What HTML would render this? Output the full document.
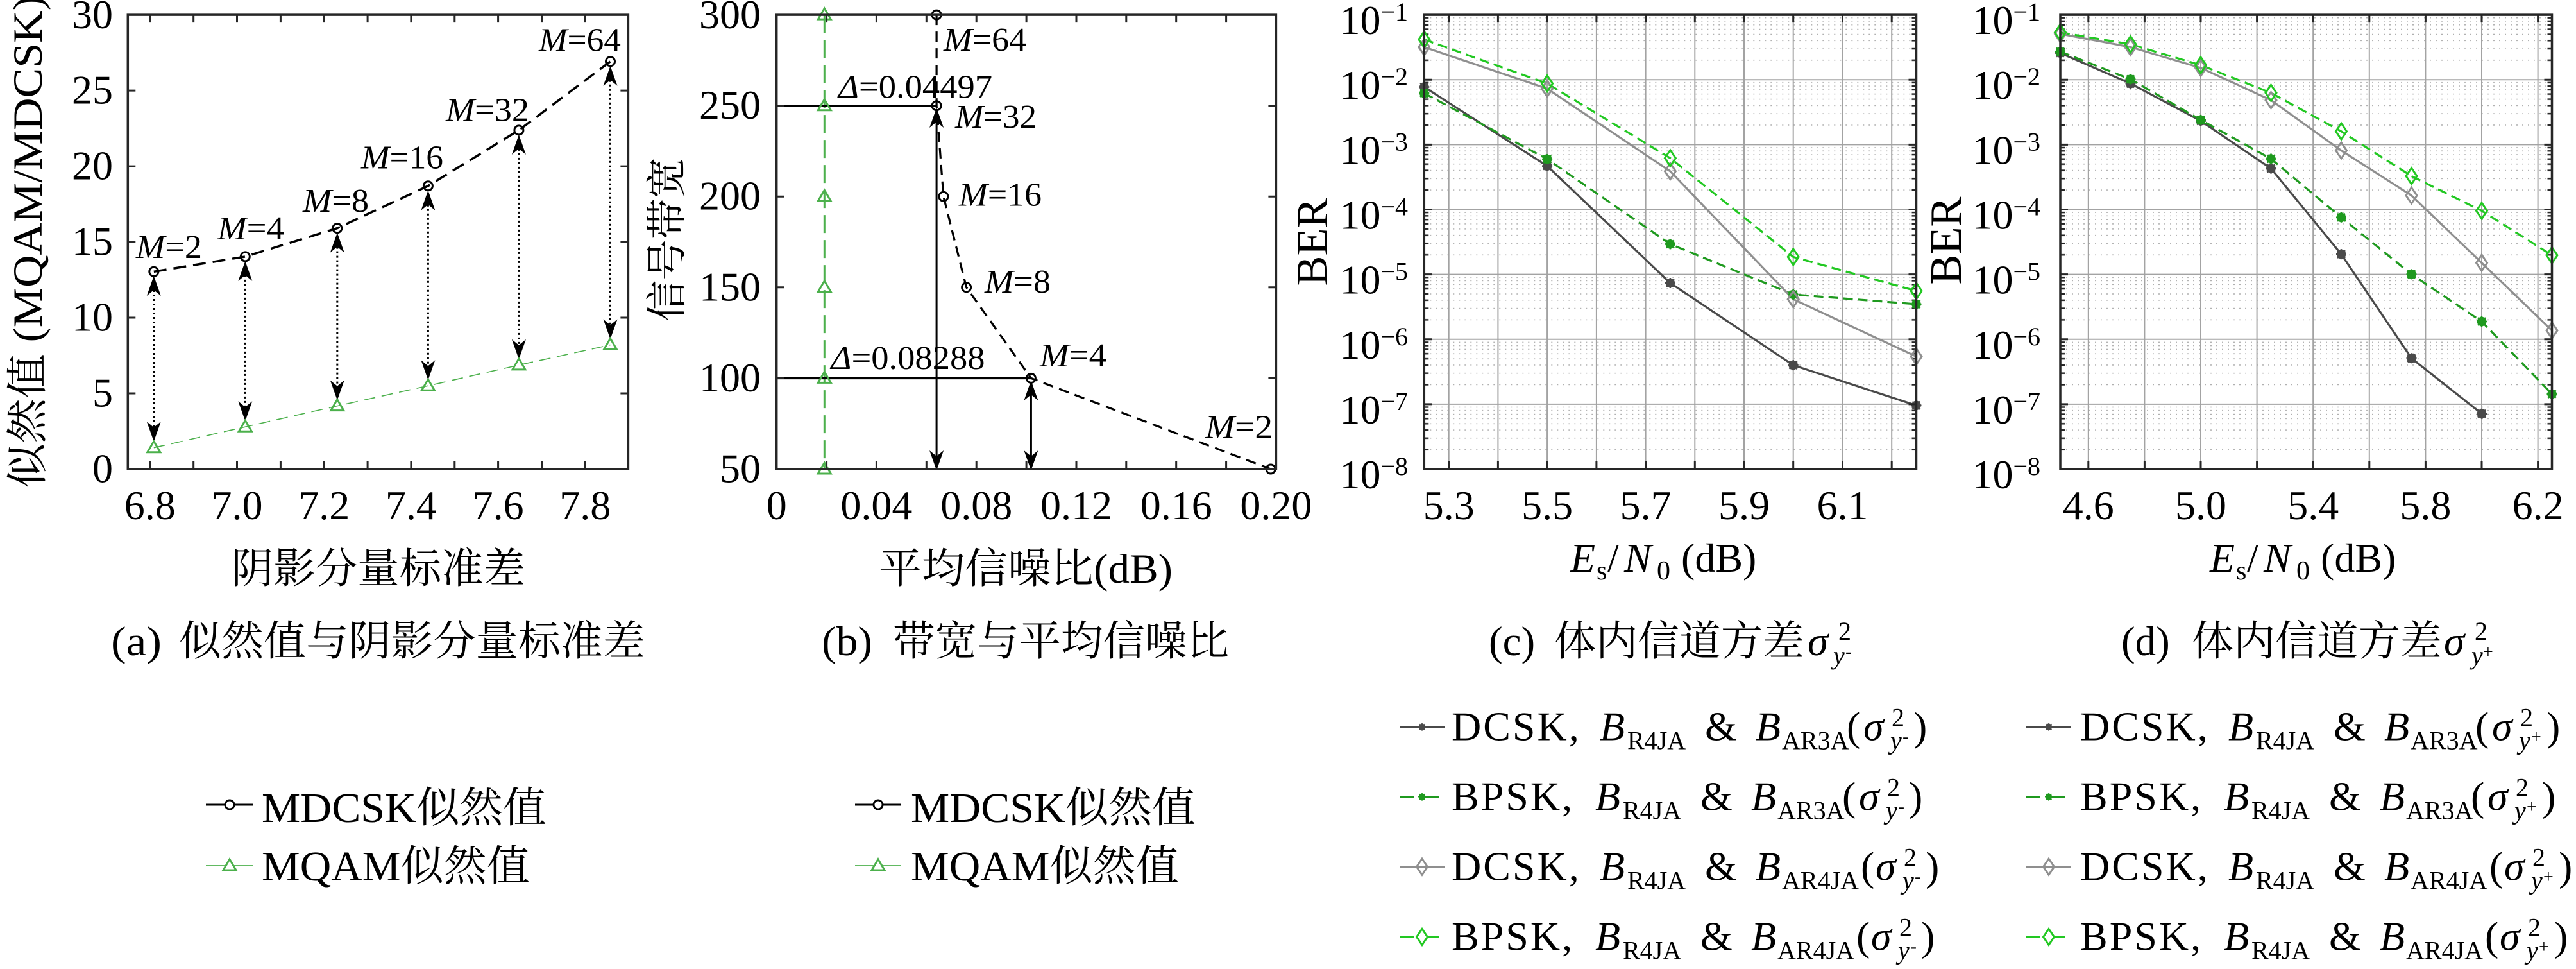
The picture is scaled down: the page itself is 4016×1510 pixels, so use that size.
<!DOCTYPE html>
<html><head><meta charset="utf-8">
<style>
html,body{margin:0;padding:0;background:#fff;}
svg{display:block;}
text{font-family:"Liberation Serif","Noto Serif CJK SC",serif;fill:#000;}
.i{font-style:italic;}
.ls{letter-spacing:3px;}
</style></head><body>
<svg xmlns="http://www.w3.org/2000/svg" xmlns:xlink="http://www.w3.org/1999/xlink" width="4016" height="1510" viewBox="0 0 4016 1510">
<defs>
<g id="ast"><circle r="6"/><path d="M-8 0h16M0-8v16M-6-6l12 12M-6 6l12-12"/></g>
<path id="dia" d="M0-12.5L8.5 0L0 12.5L-8.5 0Z" fill="none"/>
<pattern id="mgc" patternUnits="userSpaceOnUse" x="2220.3" y="23.1" width="767.2" height="101.129">
<path d="M0 4.63H767.2M0 9.8H767.2M0 15.67H767.2M0 22.43H767.2M0 30.44H767.2M0 40.24H767.2M0 52.88H767.2M0 70.69H767.2" stroke="#b0b0b0" stroke-width="1.5" stroke-dasharray="2 7" fill="none"/>
<path d="M0 4.63h7M0 9.8h7M0 15.67h7M0 22.43h7M0 30.44h7M0 40.24h7M0 52.88h7M0 70.69h7M767.2 4.63h-7M767.2 9.8h-7M767.2 15.67h-7M767.2 22.43h-7M767.2 30.44h-7M767.2 40.24h-7M767.2 52.88h-7M767.2 70.69h-7" stroke="#262626" stroke-width="2.5"/>
</pattern>
<pattern id="mgd" patternUnits="userSpaceOnUse" x="3212" y="23.1" width="766.5" height="101.129">
<path d="M0 4.63H766.5M0 9.8H766.5M0 15.67H766.5M0 22.43H766.5M0 30.44H766.5M0 40.24H766.5M0 52.88H766.5M0 70.69H766.5" stroke="#b0b0b0" stroke-width="1.5" stroke-dasharray="2 7" fill="none"/>
<path d="M0 4.63h7M0 9.8h7M0 15.67h7M0 22.43h7M0 30.44h7M0 40.24h7M0 52.88h7M0 70.69h7M766.5 4.63h-7M766.5 9.8h-7M766.5 15.67h-7M766.5 22.43h-7M766.5 30.44h-7M766.5 40.24h-7M766.5 52.88h-7M766.5 70.69h-7" stroke="#262626" stroke-width="2.5"/>
</pattern>
</defs>
<rect width="4016" height="1510" fill="#fff"/>

<!-- ================= PANEL A ================= -->
<g>
<polyline points="239.8,423.3 382.3,399.9 525.8,355.6 667.4,289.7 808.9,202.9 951.5,95.8" fill="none" stroke="#000" stroke-width="3.5" stroke-dasharray="20 11"/>
<polyline points="239.8,697.7 382.3,665.2 525.8,632.6 667.4,601.2 808.9,568.9 951.5,537.5" fill="none" stroke="#4cb04c" stroke-width="1.6" stroke-dasharray="18 10"/>
<path d="M239.8 452V666M382.3 428.9V634.2M525.8 384.6V601.6M667.4 318.7V570.2M808.9 231.9V537.9M951.5 124.8V506.5" stroke="#000" stroke-width="3" stroke-dasharray="3 4" fill="none"/>
<path fill="#000" d="M239.8 430L228.8 461L239.8 452L250.8 461ZM239.8 688L228.8 657L239.8 666L250.8 657Z
M382.3 406.9L371.3 437.9L382.3 428.9L393.3 437.9ZM382.3 656.2L371.3 625.2L382.3 634.2L393.3 625.2Z
M525.8 362.6L514.8 393.6L525.8 384.6L536.8 393.6ZM525.8 623.6L514.8 592.6L525.8 601.6L536.8 592.6Z
M667.4 296.7L656.4 327.7L667.4 318.7L678.4 327.7ZM667.4 592.2L656.4 561.2L667.4 570.2L678.4 561.2Z
M808.9 209.9L797.9 240.9L808.9 231.9L819.9 240.9ZM808.9 559.9L797.9 528.9L808.9 537.9L819.9 528.9Z
M951.5 102.8L940.5 133.8L951.5 124.8L962.5 133.8ZM951.5 528.5L940.5 497.5L951.5 506.5L962.5 497.5Z"/>
<g fill="none" stroke="#000" stroke-width="3">
<circle cx="239.8" cy="423.3" r="7"/><circle cx="382.3" cy="399.9" r="7"/><circle cx="525.8" cy="355.6" r="7"/>
<circle cx="667.4" cy="289.7" r="7"/><circle cx="808.9" cy="202.9" r="7"/><circle cx="951.5" cy="95.8" r="7"/>
</g>
<path fill="none" stroke="#4cb04c" stroke-width="3" d="M239.8 687.7L249.8 704.7L229.8 704.7ZM382.3 655.2L392.3 672.2L372.3 672.2ZM525.8 622.6L535.8 639.6L515.8 639.6ZM667.4 591.2L677.4 608.2L657.4 608.2ZM808.9 558.9L818.9 575.9L798.9 575.9ZM951.5 527.5L961.5 544.5L941.5 544.5Z"/>
<rect x="199.3" y="23.1" width="780.1" height="707.9" fill="none" stroke="#262626" stroke-width="3.5"/>
<path stroke="#262626" stroke-width="3" d="M199.3 613h12M199.3 495h12M199.3 377h12M199.3 259.1h12M199.3 141.1h12M979.4 613h-12M979.4 495h-12M979.4 377h-12M979.4 259.1h-12M979.4 141.1h-12
M233.8 731v-12M301.7 731v-12M369.5 731v-12M437.4 731v-12M505.2 731v-12M573.1 731v-12M640.9 731v-12M708.8 731v-12M776.6 731v-12M844.5 731v-12M912.3 731v-12
M233.8 23.1v12M301.7 23.1v12M369.5 23.1v12M437.4 23.1v12M505.2 23.1v12M573.1 23.1v12M640.9 23.1v12M708.8 23.1v12M776.6 23.1v12M844.5 23.1v12M912.3 23.1v12"/>
<g font-size="64" text-anchor="end">
<text x="176" y="44">30</text><text x="176" y="161.6">25</text><text x="176" y="279.6">20</text><text x="176" y="397.5">15</text><text x="176" y="515.5">10</text><text x="176" y="633.5">5</text><text x="176" y="751.5">0</text>
</g>
<g font-size="64" text-anchor="middle">
<text x="233.8" y="809">6.8</text><text x="369.5" y="809">7.0</text><text x="505.2" y="809">7.2</text><text x="640.9" y="809">7.4</text><text x="776.6" y="809">7.6</text><text x="912.3" y="809">7.8</text>
</g>
<g font-size="52">
<text x="212" y="402" textLength="103" lengthAdjust="spacingAndGlyphs"><tspan class="i">M</tspan>=2</text>
<text x="339" y="373" textLength="104" lengthAdjust="spacingAndGlyphs"><tspan class="i">M</tspan>=4</text>
<text x="472" y="330" textLength="103" lengthAdjust="spacingAndGlyphs"><tspan class="i">M</tspan>=8</text>
<text x="563" y="262.6" textLength="128" lengthAdjust="spacingAndGlyphs"><tspan class="i">M</tspan>=16</text>
<text x="695" y="188.4" textLength="130" lengthAdjust="spacingAndGlyphs"><tspan class="i">M</tspan>=32</text>
<text x="840" y="79.6" textLength="128" lengthAdjust="spacingAndGlyphs"><tspan class="i">M</tspan>=64</text>
</g>
<text transform="translate(65,377) rotate(-90)" text-anchor="middle" font-size="65" textLength="768" lengthAdjust="spacingAndGlyphs">似然值 (MQAM/MDCSK)</text>
<text x="361" y="908" font-size="65" textLength="458" lengthAdjust="spacingAndGlyphs">阴影分量标准差</text>
<text x="173" y="1021" font-size="65" textLength="79" lengthAdjust="spacingAndGlyphs">(a)</text>
<text x="279" y="1021" font-size="65" textLength="727" lengthAdjust="spacingAndGlyphs">似然值与阴影分量标准差</text>
<!-- legend a -->
<path d="M321 1254H395" stroke="#000" stroke-width="3"/>
<circle cx="358" cy="1254" r="7" fill="#fff" stroke="#000" stroke-width="3"/>
<path d="M321 1349H395" stroke="#4cb04c" stroke-width="1.8"/>
<path d="M358 1339L368 1356L348 1356Z" fill="#fff" stroke="#4cb04c" stroke-width="3"/>
<text x="408" y="1281" font-size="66" textLength="444" lengthAdjust="spacingAndGlyphs">MDCSK似然值</text>
<text x="408" y="1372" font-size="66" textLength="418" lengthAdjust="spacingAndGlyphs">MQAM似然值</text>
</g>

<!-- ================= PANEL B ================= -->
<g>
<path d="M1285.3 23.1V731" stroke="#4cb04c" stroke-width="3" stroke-dasharray="28 11" fill="none"/>
<path d="M1210.7 164.7H1460.1M1210.7 589.4H1607.4" stroke="#000" stroke-width="3.5"/>
<path d="M1460.1 190V711M1607.4 615V711" stroke="#000" stroke-width="3"/>
<path fill="#000" d="M1460.1 168L1449.1 199L1460.1 190L1471.1 199ZM1460.1 733L1449.1 702L1460.1 711L1471.1 702Z
M1607.4 593L1596.4 624L1607.4 615L1618.4 624ZM1607.4 733L1596.4 702L1607.4 711L1618.4 702Z"/>
<polyline points="1460.1,23.1 1460.1,164.7 1470.9,306.2 1506.6,447.8 1607.4,589.4 1981.1,731" fill="none" stroke="#000" stroke-width="3.2" stroke-dasharray="16 10"/>
<g fill="none" stroke="#000" stroke-width="3">
<circle cx="1460.1" cy="23.1" r="7"/><circle cx="1460.1" cy="164.7" r="7"/><circle cx="1470.9" cy="306.2" r="7"/>
<circle cx="1506.6" cy="447.8" r="7"/><circle cx="1607.4" cy="589.4" r="7"/><circle cx="1981.1" cy="731" r="7"/>
</g>
<path fill="none" stroke="#4cb04c" stroke-width="3" d="M1285.3 721L1295.3 738L1275.3 738ZM1285.3 579.4L1295.3 596.4L1275.3 596.4ZM1285.3 437.8L1295.3 454.8L1275.3 454.8ZM1285.3 296.2L1295.3 313.2L1275.3 313.2ZM1285.3 154.7L1295.3 171.7L1275.3 171.7ZM1285.3 13.1L1295.3 30.1L1275.3 30.1Z"/>
<rect x="1210.7" y="23.1" width="778.7" height="707.9" fill="none" stroke="#262626" stroke-width="3.5"/>
<path stroke="#262626" stroke-width="3" d="M1210.7 589.4h12M1210.7 447.8h12M1210.7 306.2h12M1210.7 164.7h12M1989.4 589.4h-12M1989.4 447.8h-12M1989.4 306.2h-12M1989.4 164.7h-12
M1288.6 731v-12M1366.4 731v-12M1444.3 731v-12M1522.2 731v-12M1600.1 731v-12M1678 731v-12M1755.8 731v-12M1833.7 731v-12M1911.6 731v-12
M1288.6 23.1v12M1366.4 23.1v12M1444.3 23.1v12M1522.2 23.1v12M1600.1 23.1v12M1678 23.1v12M1755.8 23.1v12M1833.7 23.1v12M1911.6 23.1v12"/>
<g font-size="64" text-anchor="end">
<text x="1186" y="44">300</text><text x="1186" y="185.2">250</text><text x="1186" y="326.7">200</text><text x="1186" y="468.3">150</text><text x="1186" y="609.9">100</text><text x="1186" y="751.5">50</text>
</g>
<g font-size="64" text-anchor="middle">
<text x="1210.7" y="809">0</text><text x="1366.4" y="809">0.04</text><text x="1522.2" y="809">0.08</text><text x="1678" y="809">0.12</text><text x="1833.7" y="809">0.16</text><text x="1989.4" y="809">0.20</text>
</g>
<g font-size="52">
<text x="1471" y="79" textLength="129" lengthAdjust="spacingAndGlyphs"><tspan class="i">M</tspan>=64</text>
<text x="1489" y="199" textLength="127" lengthAdjust="spacingAndGlyphs"><tspan class="i">M</tspan>=32</text>
<text x="1495" y="320.5" textLength="129" lengthAdjust="spacingAndGlyphs"><tspan class="i">M</tspan>=16</text>
<text x="1535" y="456" textLength="103" lengthAdjust="spacingAndGlyphs"><tspan class="i">M</tspan>=8</text>
<text x="1621" y="571" textLength="104" lengthAdjust="spacingAndGlyphs"><tspan class="i">M</tspan>=4</text>
<text x="1879" y="682.6" textLength="105" lengthAdjust="spacingAndGlyphs"><tspan class="i">M</tspan>=2</text>
<text x="1307" y="152.5" textLength="240" lengthAdjust="spacingAndGlyphs"><tspan class="i">Δ</tspan>=0.04497</text>
<text x="1295.5" y="575" textLength="240" lengthAdjust="spacingAndGlyphs"><tspan class="i">Δ</tspan>=0.08288</text>
</g>
<text transform="translate(1062,373) rotate(-90)" text-anchor="middle" font-size="64" textLength="255" lengthAdjust="spacingAndGlyphs">信号带宽</text>
<text x="1370" y="908" font-size="65" textLength="458" lengthAdjust="spacingAndGlyphs">平均信噪比(dB)</text>
<text x="1281" y="1021" font-size="65" textLength="79" lengthAdjust="spacingAndGlyphs">(b)</text>
<text x="1392" y="1021" font-size="65" textLength="524" lengthAdjust="spacingAndGlyphs">带宽与平均信噪比</text>
<!-- legend b -->
<path d="M1333 1254H1405" stroke="#000" stroke-width="3"/>
<circle cx="1369" cy="1254" r="7" fill="#fff" stroke="#000" stroke-width="3"/>
<path d="M1333 1349H1405" stroke="#4cb04c" stroke-width="1.8"/>
<path d="M1369 1339L1379 1356L1359 1356Z" fill="#fff" stroke="#4cb04c" stroke-width="3"/>
<text x="1420" y="1281" font-size="66" textLength="444" lengthAdjust="spacingAndGlyphs">MDCSK似然值</text>
<text x="1420" y="1372" font-size="66" textLength="418" lengthAdjust="spacingAndGlyphs">MQAM似然值</text>
</g>

<!-- ================= PANEL C ================= -->
<g>
<rect x="2220.3" y="23.1" width="767.2" height="707.9" fill="url(#mgc)"/>
<path stroke="#a3a3a3" stroke-width="2" fill="none" d="M2220.3 124.2H2987.5M2220.3 225.4H2987.5M2220.3 326.5H2987.5M2220.3 427.6H2987.5M2220.3 528.8H2987.5M2220.3 629.9H2987.5
M2258.7 23.1V731M2335.4 23.1V731M2412.1 23.1V731M2488.9 23.1V731M2565.6 23.1V731M2642.3 23.1V731M2719 23.1V731M2795.7 23.1V731M2872.5 23.1V731M2949.2 23.1V731"/>
<polyline points="2220.3,135.5 2412.1,258.7 2603.9,441 2795.7,569.1 2987.5,631.8" fill="none" stroke="#4a4a4a" stroke-width="3.2"/>
<polyline points="2220.3,145.3 2412.1,248 2603.9,380.4 2795.7,458.9 2987.5,474" fill="none" stroke="#1f9a1f" stroke-width="3.2" stroke-dasharray="15 8"/>
<polyline points="2220.3,73.4 2412.1,138.2 2603.9,266.9 2795.7,466.3 2987.5,555.6" fill="none" stroke="#8f8f8f" stroke-width="3.2"/>
<polyline points="2220.3,61.5 2412.1,130.2 2603.9,246.4 2795.7,400.4 2987.5,453.4" fill="none" stroke="#22c822" stroke-width="3.2" stroke-dasharray="15 8"/>
<g stroke="#4a4a4a" fill="#4a4a4a" stroke-width="2.6"><use xlink:href="#ast" x="2220.3" y="135.5"/><use xlink:href="#ast" x="2412.1" y="258.7"/><use xlink:href="#ast" x="2603.9" y="441"/><use xlink:href="#ast" x="2795.7" y="569.1"/><use xlink:href="#ast" x="2987.5" y="631.8"/></g>
<g stroke="#1f9a1f" fill="#1f9a1f" stroke-width="2.6"><use xlink:href="#ast" x="2220.3" y="145.3"/><use xlink:href="#ast" x="2412.1" y="248"/><use xlink:href="#ast" x="2603.9" y="380.4"/><use xlink:href="#ast" x="2795.7" y="458.9"/><use xlink:href="#ast" x="2987.5" y="474"/></g>
<g stroke="#8f8f8f" stroke-width="3"><use xlink:href="#dia" x="2220.3" y="73.4"/><use xlink:href="#dia" x="2412.1" y="138.2"/><use xlink:href="#dia" x="2603.9" y="266.9"/><use xlink:href="#dia" x="2795.7" y="466.3"/><use xlink:href="#dia" x="2987.5" y="555.6"/></g>
<g stroke="#22c822" stroke-width="3"><use xlink:href="#dia" x="2220.3" y="61.5"/><use xlink:href="#dia" x="2412.1" y="130.2"/><use xlink:href="#dia" x="2603.9" y="246.4"/><use xlink:href="#dia" x="2795.7" y="400.4"/><use xlink:href="#dia" x="2987.5" y="453.4"/></g>
<rect x="2220.3" y="23.1" width="767.2" height="707.9" fill="none" stroke="#262626" stroke-width="3.5"/>
<path stroke="#262626" stroke-width="3" d="M2220.3 124.2h12M2220.3 225.4h12M2220.3 326.5h12M2220.3 427.6h12M2220.3 528.8h12M2220.3 629.9h12M2987.5 124.2h-12M2987.5 225.4h-12M2987.5 326.5h-12M2987.5 427.6h-12M2987.5 528.8h-12M2987.5 629.9h-12
M2258.7 731v-12M2335.4 731v-12M2412.1 731v-12M2488.9 731v-12M2565.6 731v-12M2642.3 731v-12M2719 731v-12M2795.7 731v-12M2872.5 731v-12M2949.2 731v-12
M2258.7 23.1v12M2335.4 23.1v12M2412.1 23.1v12M2488.9 23.1v12M2565.6 23.1v12M2642.3 23.1v12M2719 23.1v12M2795.7 23.1v12M2872.5 23.1v12M2949.2 23.1v12"/>
<g font-size="64" text-anchor="end">
<text x="2195" y="53.1">10<tspan dy="-21" font-size="40">−1</tspan></text>
<text x="2195" y="154.2">10<tspan dy="-21" font-size="40">−2</tspan></text>
<text x="2195" y="255.4">10<tspan dy="-21" font-size="40">−3</tspan></text>
<text x="2195" y="356.5">10<tspan dy="-21" font-size="40">−4</tspan></text>
<text x="2195" y="457.6">10<tspan dy="-21" font-size="40">−5</tspan></text>
<text x="2195" y="558.8">10<tspan dy="-21" font-size="40">−6</tspan></text>
<text x="2195" y="659.9">10<tspan dy="-21" font-size="40">−7</tspan></text>
<text x="2195" y="761">10<tspan dy="-21" font-size="40">−8</tspan></text>
</g>
<g font-size="64" text-anchor="middle">
<text x="2258.7" y="809">5.3</text><text x="2412.1" y="809">5.5</text><text x="2565.6" y="809">5.7</text><text x="2719" y="809">5.9</text><text x="2872.5" y="809">6.1</text>
</g>
<text transform="translate(2069,377) rotate(-90)" text-anchor="middle" font-size="70" textLength="137" lengthAdjust="spacingAndGlyphs">BER</text>
<text y="891" font-size="64"><tspan x="2448" class="i">E</tspan><tspan x="2489" dy="12" font-size="42">s</tspan><tspan x="2506" dy="-12">/</tspan><tspan x="2532" class="i">N</tspan><tspan x="2583" dy="12" font-size="42">0</tspan><tspan x="2621" dy="-12">(dB)</tspan></text>
<text y="1021" font-size="65"><tspan x="2321">(c)</tspan><tspan x="2423">体内信道方差</tspan><tspan x="2818" class="i">σ</tspan><tspan x="2866" dy="-24" font-size="40">2</tspan><tspan x="2858" dy="38" font-size="40" class="i">y</tspan><tspan x="2877" dy="-10" font-size="30">-</tspan></text>
<!-- legend c -->
<path d="M2182 1132.7H2253" stroke="#4a4a4a" stroke-width="2.8"/>
<path d="M2182 1241.7H2205M2221 1241.7H2244" stroke="#1f9a1f" stroke-width="2.8"/>
<path d="M2182 1350.7H2253" stroke="#8f8f8f" stroke-width="2.8"/>
<path d="M2182 1460H2205M2225 1460H2244" stroke="#22c822" stroke-width="2.8"/>
<use xlink:href="#ast" x="2217" y="1132.7" stroke="#4a4a4a" fill="#4a4a4a" stroke-width="2" transform="translate(2217,1132.7) scale(0.75) translate(-2217,-1132.7)"/>
<use xlink:href="#ast" x="2217" y="1241.7" stroke="#1f9a1f" fill="#1f9a1f" stroke-width="2" transform="translate(2217,1241.7) scale(0.75) translate(-2217,-1241.7)"/>
<use xlink:href="#dia" x="2217" y="1350.7" stroke="#8f8f8f" stroke-width="3"/>
<use xlink:href="#dia" x="2217" y="1460" stroke="#22c822" stroke-width="3"/>
<g font-size="64">
<text y="1153.3"><tspan x="2263" class="ls">DCSK,</tspan><tspan x="2494" class="i">B</tspan><tspan x="2537" dy="14" font-size="40">R4JA</tspan><tspan x="2658" dy="-14">&amp;</tspan><tspan x="2737" class="i">B</tspan><tspan x="2778" dy="14" font-size="40">AR3A</tspan><tspan x="2879" dy="-14">(</tspan><tspan x="2905" class="i">σ</tspan><tspan x="2949" dy="-22" font-size="40">2</tspan><tspan x="2947" dy="36" font-size="40" class="i">y</tspan><tspan x="2966" dy="-10" font-size="30">-</tspan><tspan x="2983" dy="-4">)</tspan></text>
<text y="1262.3"><tspan x="2263" class="ls">BPSK,</tspan><tspan x="2487" class="i">B</tspan><tspan x="2530" dy="14" font-size="40">R4JA</tspan><tspan x="2651" dy="-14">&amp;</tspan><tspan x="2730" class="i">B</tspan><tspan x="2771" dy="14" font-size="40">AR3A</tspan><tspan x="2872" dy="-14">(</tspan><tspan x="2898" class="i">σ</tspan><tspan x="2942" dy="-22" font-size="40">2</tspan><tspan x="2940" dy="36" font-size="40" class="i">y</tspan><tspan x="2959" dy="-10" font-size="30">-</tspan><tspan x="2976" dy="-4">)</tspan></text>
<text y="1371.3"><tspan x="2263" class="ls">DCSK,</tspan><tspan x="2494" class="i">B</tspan><tspan x="2537" dy="14" font-size="40">R4JA</tspan><tspan x="2658" dy="-14">&amp;</tspan><tspan x="2737" class="i">B</tspan><tspan x="2778" dy="14" font-size="40">AR4JA</tspan><tspan x="2901" dy="-14">(</tspan><tspan x="2924" class="i">σ</tspan><tspan x="2968" dy="-22" font-size="40">2</tspan><tspan x="2966" dy="36" font-size="40" class="i">y</tspan><tspan x="2985" dy="-10" font-size="30">-</tspan><tspan x="3002" dy="-4">)</tspan></text>
<text y="1480.6"><tspan x="2263" class="ls">BPSK,</tspan><tspan x="2487" class="i">B</tspan><tspan x="2530" dy="14" font-size="40">R4JA</tspan><tspan x="2651" dy="-14">&amp;</tspan><tspan x="2730" class="i">B</tspan><tspan x="2771" dy="14" font-size="40">AR4JA</tspan><tspan x="2894" dy="-14">(</tspan><tspan x="2917" class="i">σ</tspan><tspan x="2961" dy="-22" font-size="40">2</tspan><tspan x="2959" dy="36" font-size="40" class="i">y</tspan><tspan x="2978" dy="-10" font-size="30">-</tspan><tspan x="2995" dy="-4">)</tspan></text>
</g>
</g>

<!-- ================= PANEL D ================= -->
<g>
<rect x="3212" y="23.1" width="766.5" height="707.9" fill="url(#mgd)"/>
<path stroke="#a3a3a3" stroke-width="2" fill="none" d="M3212 124.2H3978.5M3212 225.4H3978.5M3212 326.5H3978.5M3212 427.6H3978.5M3212 528.8H3978.5M3212 629.9H3978.5
M3255.8 23.1V731M3343.4 23.1V731M3431 23.1V731M3518.6 23.1V731M3606.2 23.1V731M3693.8 23.1V731M3781.4 23.1V731M3869 23.1V731M3956.6 23.1V731"/>
<polyline points="3212,82.6 3321.5,130.2 3431,188.4 3540.5,262.6 3650,396.1 3759.5,558.3 3869,644.7" fill="none" stroke="#4a4a4a" stroke-width="3.2"/>
<polyline points="3212,80.4 3321.5,123.6 3431,186.9 3540.5,247.5 3650,338.8 3759.5,427.4 3869,501 3978.5,614" fill="none" stroke="#1f9a1f" stroke-width="3.2" stroke-dasharray="15 8"/>
<polyline points="3212,52.8 3321.5,73.4 3431,105.8 3540.5,156.1 3650,234.5 3759.5,304.7 3869,409.6 3978.5,515" fill="none" stroke="#8f8f8f" stroke-width="3.2"/>
<polyline points="3212,50.5 3321.5,69 3431,101.5 3540.5,144.8 3650,204.7 3759.5,274.4 3869,328.5 3978.5,397.8" fill="none" stroke="#22c822" stroke-width="3.2" stroke-dasharray="15 8"/>
<g stroke="#4a4a4a" fill="#4a4a4a" stroke-width="2.6"><use xlink:href="#ast" x="3212" y="82.6"/><use xlink:href="#ast" x="3321.5" y="130.2"/><use xlink:href="#ast" x="3431" y="188.4"/><use xlink:href="#ast" x="3540.5" y="262.6"/><use xlink:href="#ast" x="3650" y="396.1"/><use xlink:href="#ast" x="3759.5" y="558.3"/><use xlink:href="#ast" x="3869" y="644.7"/></g>
<g stroke="#1f9a1f" fill="#1f9a1f" stroke-width="2.6"><use xlink:href="#ast" x="3212" y="80.4"/><use xlink:href="#ast" x="3321.5" y="123.6"/><use xlink:href="#ast" x="3431" y="186.9"/><use xlink:href="#ast" x="3540.5" y="247.5"/><use xlink:href="#ast" x="3650" y="338.8"/><use xlink:href="#ast" x="3759.5" y="427.4"/><use xlink:href="#ast" x="3869" y="501"/><use xlink:href="#ast" x="3978.5" y="614"/></g>
<g stroke="#8f8f8f" stroke-width="3"><use xlink:href="#dia" x="3212" y="52.8"/><use xlink:href="#dia" x="3321.5" y="73.4"/><use xlink:href="#dia" x="3431" y="105.8"/><use xlink:href="#dia" x="3540.5" y="156.1"/><use xlink:href="#dia" x="3650" y="234.5"/><use xlink:href="#dia" x="3759.5" y="304.7"/><use xlink:href="#dia" x="3869" y="409.6"/><use xlink:href="#dia" x="3978.5" y="515"/></g>
<g stroke="#22c822" stroke-width="3"><use xlink:href="#dia" x="3212" y="50.5"/><use xlink:href="#dia" x="3321.5" y="69"/><use xlink:href="#dia" x="3431" y="101.5"/><use xlink:href="#dia" x="3540.5" y="144.8"/><use xlink:href="#dia" x="3650" y="204.7"/><use xlink:href="#dia" x="3759.5" y="274.4"/><use xlink:href="#dia" x="3869" y="328.5"/><use xlink:href="#dia" x="3978.5" y="397.8"/></g>
<rect x="3212" y="23.1" width="766.5" height="707.9" fill="none" stroke="#262626" stroke-width="3.5"/>
<path stroke="#262626" stroke-width="3" d="M3212 124.2h12M3212 225.4h12M3212 326.5h12M3212 427.6h12M3212 528.8h12M3212 629.9h12M3978.5 124.2h-12M3978.5 225.4h-12M3978.5 326.5h-12M3978.5 427.6h-12M3978.5 528.8h-12M3978.5 629.9h-12
M3255.8 731v-12M3343.4 731v-12M3431 731v-12M3518.6 731v-12M3606.2 731v-12M3693.8 731v-12M3781.4 731v-12M3869 731v-12M3956.6 731v-12
M3255.8 23.1v12M3343.4 23.1v12M3431 23.1v12M3518.6 23.1v12M3606.2 23.1v12M3693.8 23.1v12M3781.4 23.1v12M3869 23.1v12M3956.6 23.1v12"/>
<g font-size="64" text-anchor="end">
<text x="3181" y="53.1">10<tspan dy="-21" font-size="40">−1</tspan></text>
<text x="3181" y="154.2">10<tspan dy="-21" font-size="40">−2</tspan></text>
<text x="3181" y="255.4">10<tspan dy="-21" font-size="40">−3</tspan></text>
<text x="3181" y="356.5">10<tspan dy="-21" font-size="40">−4</tspan></text>
<text x="3181" y="457.6">10<tspan dy="-21" font-size="40">−5</tspan></text>
<text x="3181" y="558.8">10<tspan dy="-21" font-size="40">−6</tspan></text>
<text x="3181" y="659.9">10<tspan dy="-21" font-size="40">−7</tspan></text>
<text x="3181" y="761">10<tspan dy="-21" font-size="40">−8</tspan></text>
</g>
<g font-size="64" text-anchor="middle">
<text x="3255.8" y="809">4.6</text><text x="3431" y="809">5.0</text><text x="3606.2" y="809">5.4</text><text x="3781.4" y="809">5.8</text><text x="3956.6" y="809">6.2</text>
</g>
<text transform="translate(3057,375) rotate(-90)" text-anchor="middle" font-size="70" textLength="137" lengthAdjust="spacingAndGlyphs">BER</text>
<text y="891" font-size="64"><tspan x="3445" class="i">E</tspan><tspan x="3486" dy="12" font-size="42">s</tspan><tspan x="3503" dy="-12">/</tspan><tspan x="3529" class="i">N</tspan><tspan x="3580" dy="12" font-size="42">0</tspan><tspan x="3618" dy="-12">(dB)</tspan></text>
<text y="1021" font-size="65"><tspan x="3307">(d)</tspan><tspan x="3417">体内信道方差</tspan><tspan x="3810" class="i">σ</tspan><tspan x="3858" dy="-24" font-size="40">2</tspan><tspan x="3853" dy="38" font-size="40" class="i">y</tspan><tspan x="3871" dy="-10" font-size="28">+</tspan></text>
<!-- legend d -->
<path d="M3158 1132.7H3229" stroke="#4a4a4a" stroke-width="2.8"/>
<path d="M3158 1241.7H3181M3197 1241.7H3220" stroke="#1f9a1f" stroke-width="2.8"/>
<path d="M3158 1350.7H3229" stroke="#8f8f8f" stroke-width="2.8"/>
<path d="M3158 1460H3181M3201 1460H3220" stroke="#22c822" stroke-width="2.8"/>
<use xlink:href="#ast" x="3194" y="1132.7" stroke="#4a4a4a" fill="#4a4a4a" stroke-width="2" transform="translate(3194,1132.7) scale(0.75) translate(-3194,-1132.7)"/>
<use xlink:href="#ast" x="3194" y="1241.7" stroke="#1f9a1f" fill="#1f9a1f" stroke-width="2" transform="translate(3194,1241.7) scale(0.75) translate(-3194,-1241.7)"/>
<use xlink:href="#dia" x="3194" y="1350.7" stroke="#8f8f8f" stroke-width="3"/>
<use xlink:href="#dia" x="3194" y="1460" stroke="#22c822" stroke-width="3"/>
<g font-size="64">
<text y="1153.3"><tspan x="3243" class="ls">DCSK,</tspan><tspan x="3474" class="i">B</tspan><tspan x="3517" dy="14" font-size="40">R4JA</tspan><tspan x="3638" dy="-14">&amp;</tspan><tspan x="3717" class="i">B</tspan><tspan x="3758" dy="14" font-size="40">AR3A</tspan><tspan x="3859" dy="-14">(</tspan><tspan x="3885" class="i">σ</tspan><tspan x="3929" dy="-22" font-size="40">2</tspan><tspan x="3927" dy="36" font-size="40" class="i">y</tspan><tspan x="3946" dy="-10" font-size="28">+</tspan><tspan x="3970" dy="-4">)</tspan></text>
<text y="1262.3"><tspan x="3243" class="ls">BPSK,</tspan><tspan x="3467" class="i">B</tspan><tspan x="3510" dy="14" font-size="40">R4JA</tspan><tspan x="3631" dy="-14">&amp;</tspan><tspan x="3710" class="i">B</tspan><tspan x="3751" dy="14" font-size="40">AR3A</tspan><tspan x="3852" dy="-14">(</tspan><tspan x="3878" class="i">σ</tspan><tspan x="3922" dy="-22" font-size="40">2</tspan><tspan x="3920" dy="36" font-size="40" class="i">y</tspan><tspan x="3939" dy="-10" font-size="28">+</tspan><tspan x="3963" dy="-4">)</tspan></text>
<text y="1371.3"><tspan x="3243" class="ls">DCSK,</tspan><tspan x="3474" class="i">B</tspan><tspan x="3517" dy="14" font-size="40">R4JA</tspan><tspan x="3638" dy="-14">&amp;</tspan><tspan x="3717" class="i">B</tspan><tspan x="3758" dy="14" font-size="40">AR4JA</tspan><tspan x="3881" dy="-14">(</tspan><tspan x="3904" class="i">σ</tspan><tspan x="3948" dy="-22" font-size="40">2</tspan><tspan x="3946" dy="36" font-size="40" class="i">y</tspan><tspan x="3965" dy="-10" font-size="28">+</tspan><tspan x="3989" dy="-4">)</tspan></text>
<text y="1480.6"><tspan x="3243" class="ls">BPSK,</tspan><tspan x="3467" class="i">B</tspan><tspan x="3510" dy="14" font-size="40">R4JA</tspan><tspan x="3631" dy="-14">&amp;</tspan><tspan x="3710" class="i">B</tspan><tspan x="3751" dy="14" font-size="40">AR4JA</tspan><tspan x="3874" dy="-14">(</tspan><tspan x="3897" class="i">σ</tspan><tspan x="3941" dy="-22" font-size="40">2</tspan><tspan x="3939" dy="36" font-size="40" class="i">y</tspan><tspan x="3958" dy="-10" font-size="28">+</tspan><tspan x="3982" dy="-4">)</tspan></text>
</g>
</g>
</svg>
</body></html>
